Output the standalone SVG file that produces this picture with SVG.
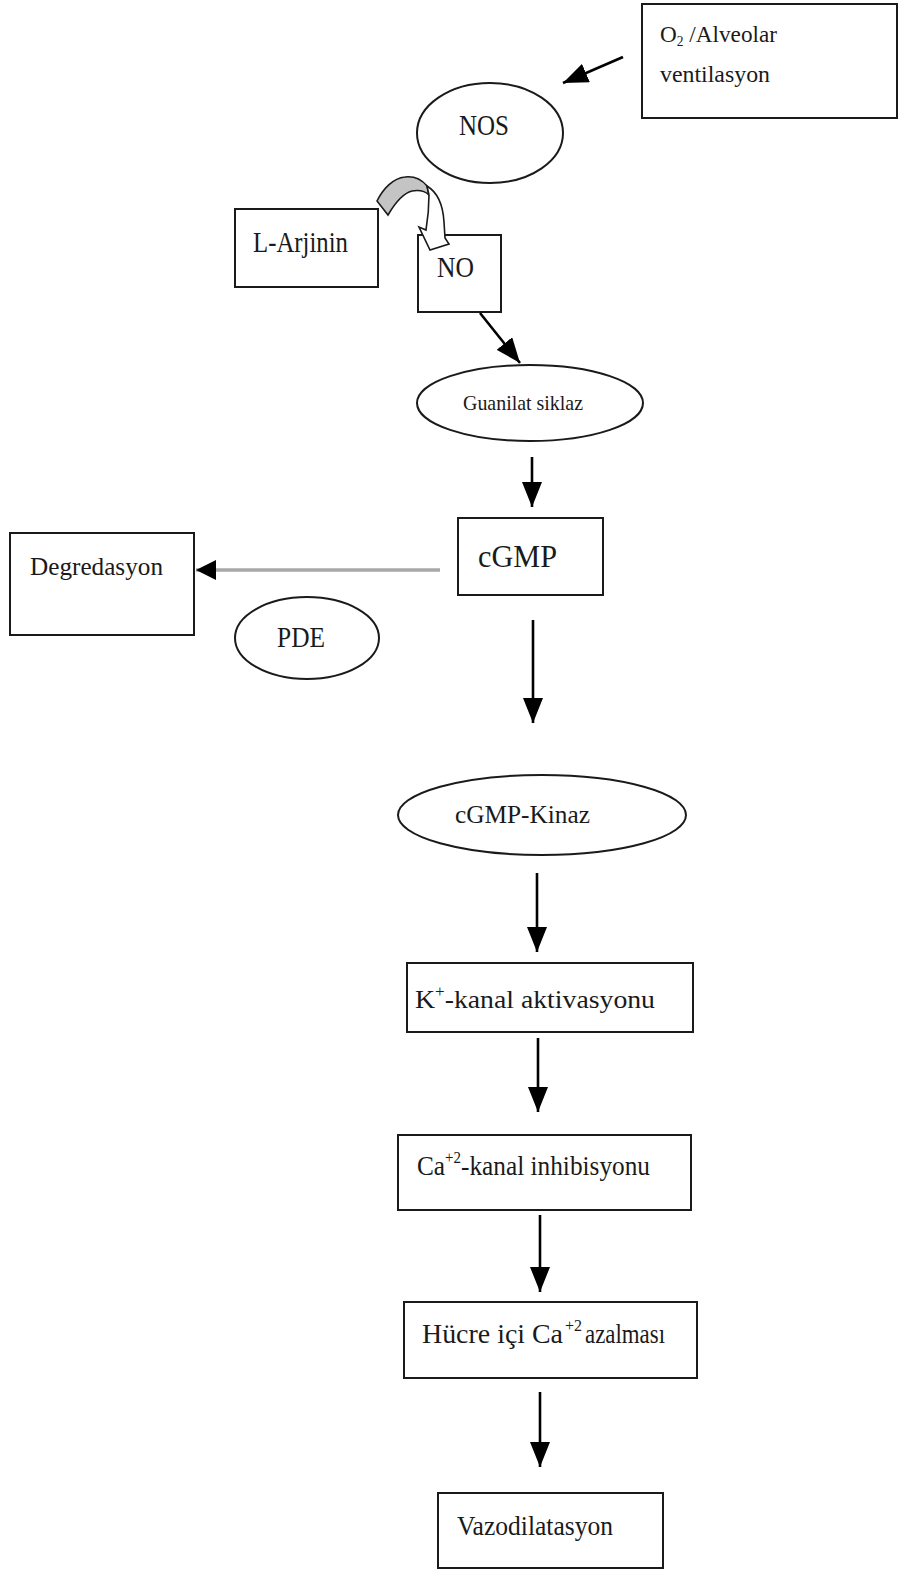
<svg xmlns="http://www.w3.org/2000/svg" width="898" height="1571" viewBox="0 0 898 1571">
<style>
.box{fill:#fff;stroke:#1a1a1a;stroke-width:2}
.ell{fill:#fff;stroke:#1a1a1a;stroke-width:2}
.t{font-family:"Liberation Serif","Times New Roman",serif;fill:#1a1a1a}
.c{stroke:#000;stroke-width:2.6;fill:none}
</style>
<defs>
<marker id="ah" viewBox="0 0 25 20" refX="25" refY="10" markerWidth="25" markerHeight="20" markerUnits="userSpaceOnUse" orient="auto">
<path d="M0,0 L25,10 L0,20 Z" fill="#000"/>
</marker>
<marker id="ahs" viewBox="0 0 20 20" refX="20" refY="10" markerWidth="20" markerHeight="20" markerUnits="userSpaceOnUse" orient="auto">
<path d="M0,0 L20,10 L0,20 Z" fill="#000"/>
</marker>
</defs>
<rect width="898" height="1571" fill="#fff"/>
<g id="o2">
<rect class="box" x="642" y="4" width="255" height="114"/>
<text class="t" x="660" y="42" font-size="24" textLength="117" lengthAdjust="spacingAndGlyphs">O<tspan font-size="14" dy="4">2</tspan><tspan dy="-4"> /Alveolar</tspan></text>
<text class="t" x="660" y="82" font-size="24" textLength="110" lengthAdjust="spacingAndGlyphs">ventilasyon</text>
</g>
<g id="nos">
<ellipse class="ell" cx="490" cy="133" rx="73" ry="50"/>
<text class="t" x="459" y="135" font-size="30" textLength="50" lengthAdjust="spacingAndGlyphs">NOS</text>
</g>
<g id="larjinin">
<rect class="box" x="235" y="209" width="143" height="78"/>
<text class="t" x="253" y="252" font-size="30" textLength="95" lengthAdjust="spacingAndGlyphs">L-Arjinin</text>
</g>
<g id="no">
<rect class="box" x="418" y="235" width="83" height="77"/>
<text class="t" x="437" y="277" font-size="30" textLength="37" lengthAdjust="spacingAndGlyphs">NO</text>
</g>
<g id="guanilat">
<ellipse class="ell" cx="530" cy="403" rx="113" ry="38"/>
<text class="t" x="463" y="410" font-size="22" textLength="120" lengthAdjust="spacingAndGlyphs">Guanilat siklaz</text>
</g>
<g id="cgmp">
<rect class="box" x="458" y="518" width="145" height="77"/>
<text class="t" x="478" y="567" font-size="32" textLength="79" lengthAdjust="spacingAndGlyphs">cGMP</text>
</g>
<g id="degredasyon">
<rect class="box" x="10" y="533" width="184" height="102"/>
<text class="t" x="30" y="575" font-size="25" textLength="133" lengthAdjust="spacingAndGlyphs">Degredasyon</text>
</g>
<g id="pde">
<ellipse class="ell" cx="307" cy="638" rx="72" ry="41"/>
<text class="t" x="277" y="647" font-size="29" textLength="48" lengthAdjust="spacingAndGlyphs">PDE</text>
</g>
<g id="cgmpkinaz">
<ellipse class="ell" cx="542" cy="815" rx="144" ry="40"/>
<text class="t" x="455" y="823" font-size="26" textLength="135" lengthAdjust="spacingAndGlyphs">cGMP-Kinaz</text>
</g>
<g id="kkanal">
<rect class="box" x="407" y="963" width="286" height="69"/>
<text class="t" x="415" y="1008" font-size="26" textLength="240" lengthAdjust="spacingAndGlyphs">K<tspan font-size="16" dy="-11">+</tspan><tspan dy="11">-kanal aktivasyonu</tspan></text>
</g>
<g id="cakanal">
<rect class="box" x="398" y="1135" width="293" height="75"/>
<text class="t" x="417" y="1175" font-size="27" textLength="233" lengthAdjust="spacingAndGlyphs">Ca<tspan font-size="16" dy="-12">+2</tspan><tspan dy="12">-kanal inhibisyonu</tspan></text>
</g>
<g id="hucre">
<rect class="box" x="404" y="1302" width="293" height="76"/>
<text class="t" x="422" y="1343" font-size="27" textLength="141" lengthAdjust="spacingAndGlyphs">Hücre içi Ca</text>
<text class="t" x="565" y="1331" font-size="16">+2</text>
<text class="t" x="585" y="1343" font-size="27" textLength="80" lengthAdjust="spacingAndGlyphs">azalması</text>
</g>
<g id="vazodilatasyon">
<rect class="box" x="438" y="1493" width="225" height="75"/>
<text class="t" x="457" y="1535" font-size="28" textLength="156" lengthAdjust="spacingAndGlyphs">Vazodilatasyon</text>
</g>
<g id="connectors">
<line class="c" x1="623" y1="57" x2="563" y2="83" marker-end="url(#ah)"/>
<line class="c" x1="480" y1="313" x2="520" y2="363" marker-end="url(#ah)"/>
<line class="c" x1="532" y1="457" x2="532" y2="507" marker-end="url(#ah)"/>
<line x1="440" y1="570" x2="196" y2="570" stroke="#a8a8a8" stroke-width="3.5" marker-end="url(#ahs)"/>
<line class="c" x1="533" y1="620" x2="533" y2="723" marker-end="url(#ah)"/>
<line class="c" x1="537" y1="873" x2="537" y2="952" marker-end="url(#ah)"/>
<line class="c" x1="538" y1="1038" x2="538" y2="1112" marker-end="url(#ah)"/>
<line class="c" x1="540" y1="1215" x2="540" y2="1292" marker-end="url(#ah)"/>
<line class="c" x1="540" y1="1392" x2="540" y2="1467" marker-end="url(#ah)"/>
<path d="M377,201 C383,189 393,178 405,177 C414,176 422,180 427,186 L429,195 C425,191 418,190 412,191 C404,193 395,203 388,215 Z" fill="#c4c4c4" stroke="#1a1a1a" stroke-width="1.6"/>
<path d="M427,186 C437,192 443,205 444,222 L445,238 L449,244 L430,250 L419,227 L426,230 C428,218 429,206 429,195 Z" fill="#fff" stroke="#1a1a1a" stroke-width="1.6"/>
</g>
</svg>
